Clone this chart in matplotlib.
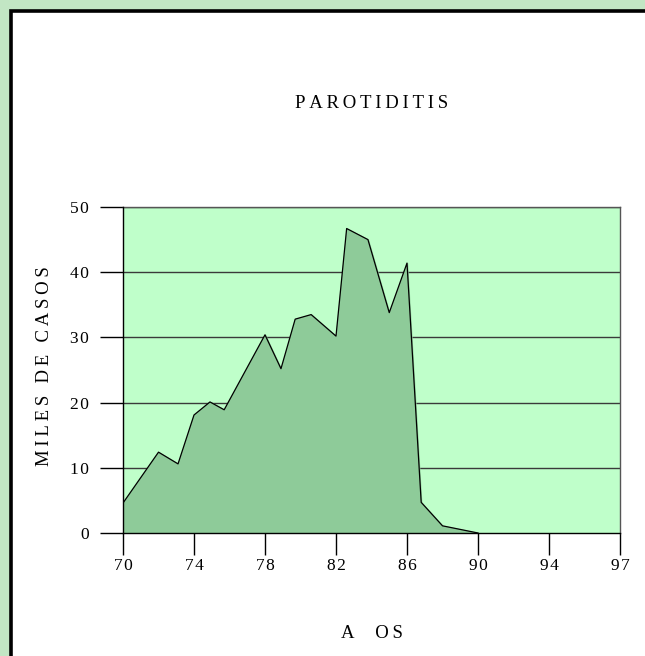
import matplotlib
matplotlib.use("Agg")
import matplotlib.pyplot as plt
from matplotlib.patches import Rectangle

# values (year, thousands of cases)
years = [70, 72, 73.1, 74, 74.9, 75.7, 78, 78.9, 79.7, 80.6, 82, 82.6, 83.8, 85, 86, 86.8, 88, 90]
cases = [4.6, 12.4, 10.6, 18.1, 20.1, 18.9, 30.4, 25.2, 32.8, 33.5, 30.2, 46.7, 45.0, 33.8, 41.4, 4.7, 1.1, 0]

x_ticks = [70, 74, 78, 82, 86, 90, 94, 98]
x_tick_labels = ["70", "74", "78", "82", "86", "90", "94", "97"]
y_ticks = [0, 10, 20, 30, 40, 50]

title = "PAROTIDITIS"
x_label = "A  OS"
y_label = "MILES DE CASOS"

W, H = 645, 656


def spaced(s, sep="\u2009"):
    return sep.join(s)


plt.rcParams['font.family'] = ['Liberation Serif', 'DejaVu Serif']

fig = plt.figure(figsize=(W / 100, H / 100), dpi=100)
fig.patch.set_facecolor("#c2e6c4")

# white panel with a black frame on the left and top
panel = Rectangle((11 / W, -0.1), 1.2, (H - 11) / H + 0.1, transform=fig.transFigure,
                  facecolor="white", edgecolor="black", linewidth=2.6, zorder=-1)
fig.patches.append(panel)

left, right, top, bottom = 123, 620, 207, 533
ax = fig.add_axes([left / W, (H - bottom) / H, (right - left) / W, (bottom - top) / H])
ax.set_zorder(2)
ax.set_facecolor("#bfffca")

ax.set_xlim(70, 98)
ax.set_ylim(0, 50)

for v in y_ticks[1:]:
    ax.axhline(v, color="#3a3a3a", linewidth=1.0, zorder=1)

ax.fill_between(years, cases, 0, color="#8ecb99", zorder=2)
ax.plot(years, cases, color="black", linewidth=0.9, zorder=3)

ax.set_xticks(x_ticks)
ax.set_xticklabels([spaced(t, "\u200a") for t in x_tick_labels])
ax.set_yticks(y_ticks)
ax.set_yticklabels([spaced(str(t), "\u200a") for t in y_ticks])

ax.tick_params(axis="y", direction="out", length=16.5, width=1.0, pad=8, labelsize=12.5, color="black")
ax.tick_params(axis="x", direction="out", length=16, width=1.0, pad=2, labelsize=12.5, color="black")

for side in ["left", "bottom"]:
    ax.spines[side].set_color("black")
    ax.spines[side].set_linewidth(1.0)
for side in ["right", "top"]:
    ax.spines[side].set_color("#555555")
    ax.spines[side].set_linewidth(1.0)
ax.spines["left"].set_zorder(4)

cx = (left + right) / 2 / W
fig.text(cx, 1 - 103 / H, spaced(title), ha="center", va="center", fontsize=13.5)
fig.text(cx, 1 - 633 / H, spaced(x_label), ha="center", va="center", fontsize=13.5)
fig.text(45 / W, 1 - 366 / H, spaced(y_label), ha="center", va="center", rotation=90, fontsize=13.5)

fig.savefig("out.png", dpi=100, facecolor=fig.get_facecolor())
